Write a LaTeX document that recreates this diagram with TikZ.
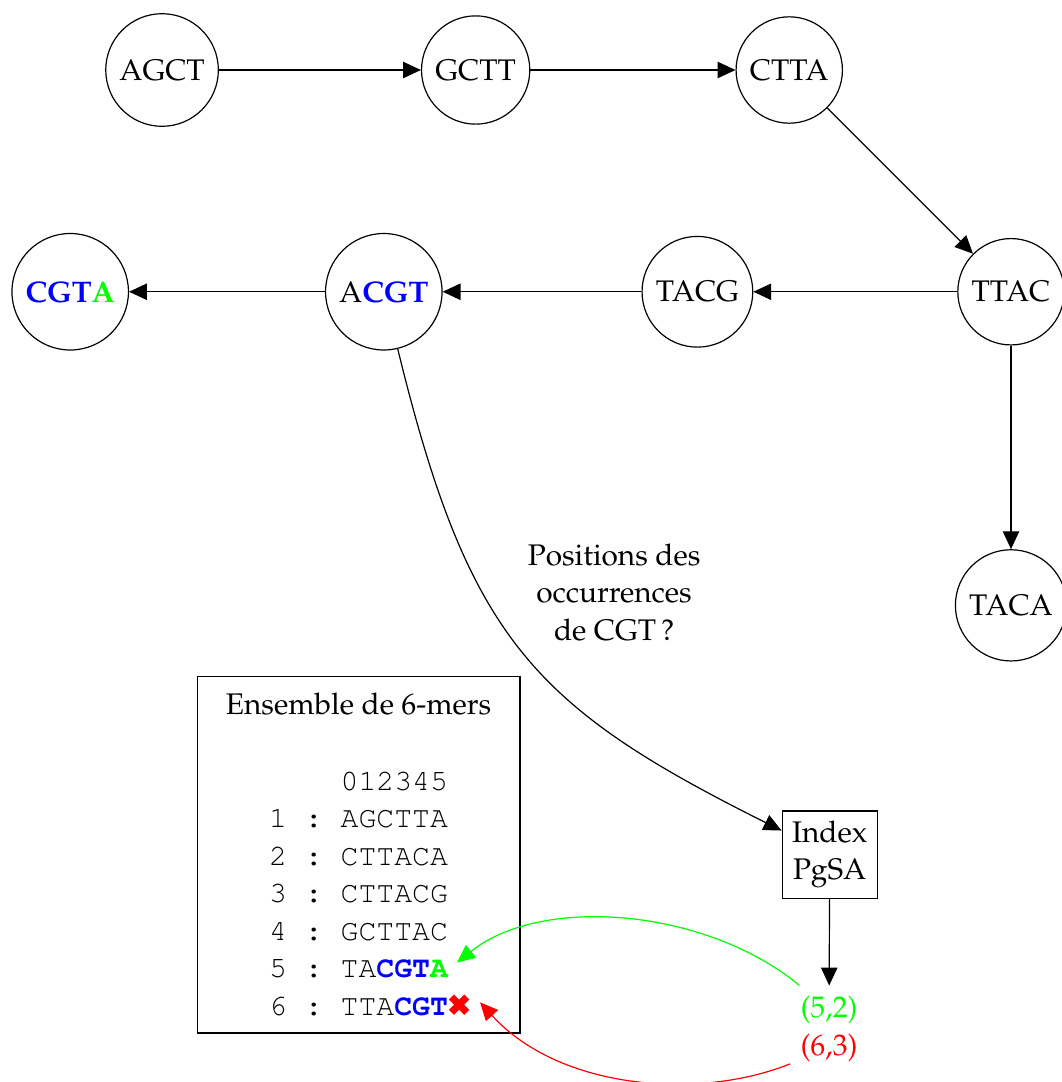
\documentclass[tikz,border=0pt]{standalone}
\usepackage[T1]{fontenc}
\usepackage{mathpazo}
\usepackage{courier}
\linespread{1.05}
\frenchspacing
\usepackage{pifont}
\usepackage{tikz}
\usetikzlibrary{arrows.meta}
\tikzset{>={Triangle[length=6pt,width=5.5pt]},node distance=3.7cm,
  kmer/.style={circle,draw},
  boxnode/.style={rectangle,draw,align=center}}

\begin{document}
\begin{tikzpicture}
    \useasboundingbox (-1.912,0.826) rectangle (10.61,-11.94);
    % graphe de de Bruijn
    \node[kmer] (agct) {AGCT};
    \node[kmer] (gctt) [right of=agct] {GCTT};
    \node[kmer] (ctta) [right of=gctt] {CTTA};
    \node[kmer] (ttac) [below right of=ctta] {TTAC};
    \node[kmer] (tacg) [left of=ttac] {TACG};
    \node[kmer] (acgt) [left of=tacg] {A{\bfseries\color{blue}CGT}};
    \node[kmer] (cgta) [left of=acgt] {{\bfseries\color{blue}CGT\color{green}A}};
    \node[kmer] (taca) [below of=ttac] {TACA};
    \path[->]
    (agct) edge (gctt)
    (gctt) edge (ctta)
    (ctta) edge (ttac)
    (ttac) edge (tacg)
    (tacg) edge (acgt)
    (acgt) edge (cgta)
    (ttac) edge (taca)
    ;
    % index
    \node[boxnode] (index) at (7.877,-9.257) {Index\\PgSA};
    \node[align=center] (query) at (5.334,-6.16) {Positions des\\occurrences\\de CGT\,?};
    \node[boxnode,minimum width=3.81cm,minimum height=4.21cm] (kmers) at (2.319,-9.257)
      {Ensemble de 6-mers\\[12.6pt]
       \texttt{\phantom{1 : }012345}\\
       \texttt{1 : AGCTTA}\\
       \texttt{2 : CTTACA}\\
       \texttt{3 : CTTACG}\\
       \texttt{4 : GCTTAC}\\
       \texttt{5 : TA\textbf{\color{blue}CGT\color{green}A}}\\
       \texttt{6 : TTA\textbf{\color{blue}CGT}\rlap{\color{red}\ding{54}}}};
    \node[text=green] (res52) at (7.87,-11.09) {(5,2)};
    \node[text=red] (res63) at (7.87,-11.54) {(6,3)};
    \coordinate (hitA) at (3.481,-10.53);
    \coordinate (missX) at (3.752,-11.0);
    \draw[->] (acgt) .. controls +(1.0,-4.1) and +(-3.5,1.75) .. (index);
    \draw[->] (index) -- (res52);
    \draw[->,green] (res52) .. controls +(-1.45,1.2) and +(1.0,0.8) .. (hitA);
    \draw[->,red] (res63) .. controls +(-1.522,-0.614) and +(0.944,-1.038) .. (missX);
\end{tikzpicture}
\end{document}
